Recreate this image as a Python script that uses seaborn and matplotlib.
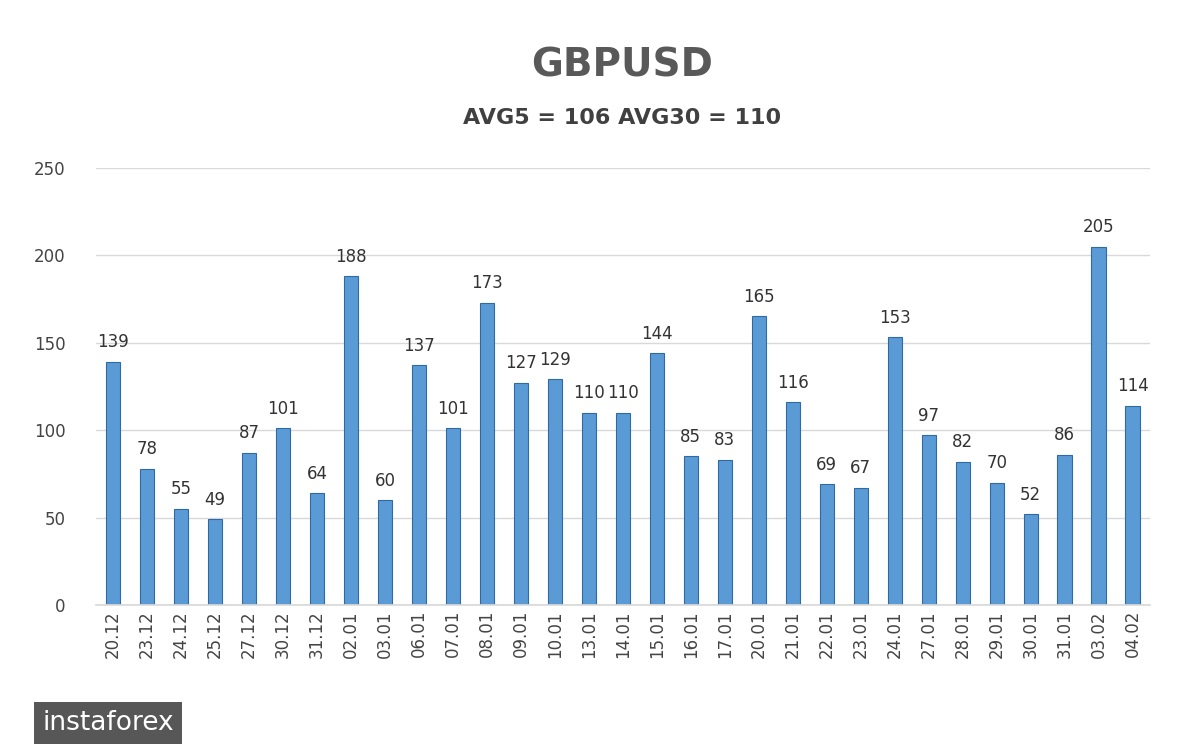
import matplotlib
matplotlib.use("Agg")
import matplotlib.pyplot as plt
import seaborn as sns
import pandas as pd

dates = ["20.12", "23.12", "24.12", "25.12", "27.12", "30.12", "31.12", "02.01", "03.01",
         "06.01", "07.01", "08.01", "09.01", "10.01", "13.01", "14.01", "15.01", "16.01",
         "17.01", "20.01", "21.01", "22.01", "23.01", "24.01", "27.01", "28.01", "29.01",
         "30.01", "31.01", "03.02", "04.02"]
values = [139, 78, 55, 49, 87, 101, 64, 188, 60, 137, 101, 173, 127, 129, 110, 110, 144,
          85, 83, 165, 116, 69, 67, 153, 97, 82, 70, 52, 86, 205, 114]

df = pd.DataFrame({"date": dates, "value": values})

sns.set_theme(style="white")
fig = plt.figure(figsize=(12, 7.49), dpi=100)
ax = fig.add_axes([0.08, 0.192, 0.878, 0.584])

sns.barplot(data=df, x="date", y="value", ax=ax, color="#5b9bd5", width=0.42,
            edgecolor="#2f6aa5", linewidth=0.8, saturation=1)

for i, v in enumerate(values):
    ax.text(i, v + 6, str(v), ha="center", va="bottom", fontsize=12, color="#333333")

ax.set_ylim(0, 250)
ax.set_xlim(-0.5, len(values) - 0.5)
ax.set_yticks([0, 50, 100, 150, 200, 250])
ax.yaxis.grid(True, color="#d9d9d9", linewidth=1)
ax.set_axisbelow(True)
for s in ["top", "right", "left"]:
    ax.spines[s].set_visible(False)
ax.spines["bottom"].set_color("#d9d9d9")
ax.set_xlabel("")
ax.set_ylabel("")
ax.tick_params(axis="x", rotation=90, labelsize=12, colors="#444444", length=0)
ax.tick_params(axis="y", labelsize=12, colors="#444444", length=0, pad=22)

fig.text(0.518, 0.913, "GBPUSD", ha="center", va="center", fontsize=28,
         fontweight="bold", color="#595959")
fig.text(0.518, 0.843, "AVG5 = 106 AVG30 = 110", ha="center", va="center", fontsize=16,
         fontweight="bold", color="#404040")
fig.text(0.035, 0.035, "instaforex", ha="left", va="center", fontsize=19, color="white",
         bbox=dict(boxstyle="square,pad=0.3", facecolor="#3a3a3a", edgecolor="none", alpha=0.85))

fig.savefig("out.png", dpi=100)
